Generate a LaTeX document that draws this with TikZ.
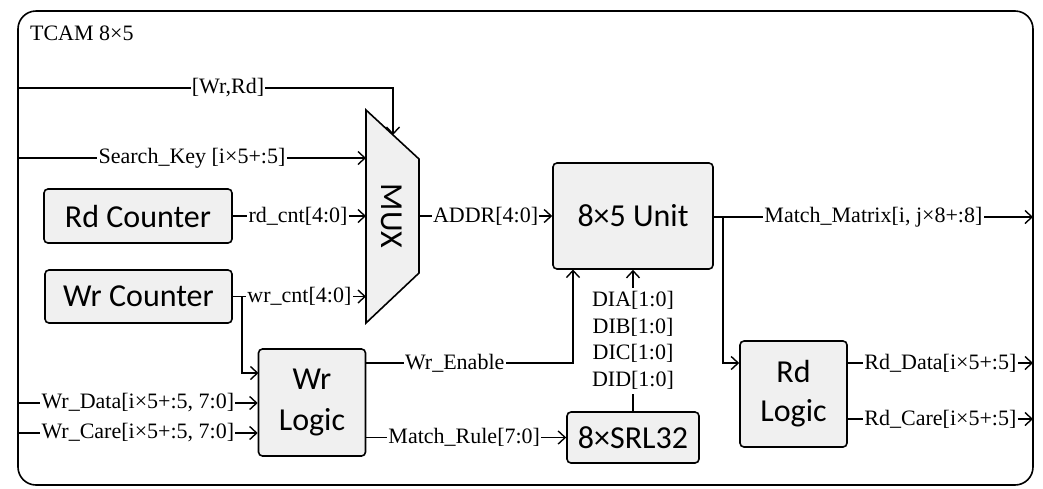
\documentclass[tikz,border=0pt]{standalone}
\usepackage{fontspec}
\setmainfont{Liberation Serif}
\newfontfamily\blkfont{Carlito}
\usetikzlibrary{arrows.meta}
\definecolor{blkgray}{HTML}{F0F0F0}
\tikzset{
	blk/.style={draw, fill=blkgray, rounded corners=2pt, line width=0.8pt, align=center, inner sep=0pt, font=\blkfont\fontsize{16}{20.5}\selectfont},
	lbl/.style={fill=white, inner sep=0.6pt, font=\fontsize{11}{13.3}\selectfont},
	sig/.style={line width=0.7pt, -{Straight Barb[length=3.5pt,width=6.5pt]}},
	wire/.style={line width=0.7pt},
}

\begin{document}
\begin{tikzpicture}[x=0.5pt,y=-0.5pt]
	\useasboundingbox (0,0) rectangle (1043,488);
	\draw [line width=0.8pt, rounded corners=9pt] (18,11) rectangle (1033,485);
	\node [anchor=west, font=\fontsize{11}{13.3}\selectfont] (title) at (23,33) {TCAM 8×5};

	\coordinate (inrw) at (18,88);
	\coordinate (insk) at (18,158);
	\coordinate (inwd) at (18,403);
	\coordinate (inwc) at (18,433);
	\coordinate (outmm) at (1033,217);
	\coordinate (outrd) at (1033,363);
	\coordinate (outrc) at (1033,419);

	\coordinate (muxtl) at (366,110);
	\coordinate (muxtr) at (419,159);
	\coordinate (muxbr) at (419,273);
	\coordinate (muxbl) at (366,323);
	\coordinate (muxsel) at (393,135);
	\coordinate (muxout) at (419,216);
	\draw [line width=0.8pt, fill=blkgray] (muxtl) -- (muxtr) -- (muxbr) -- (muxbl) -- cycle;
	\node [font=\blkfont\fontsize{16}{19}\selectfont, rotate=-90] (mux) at (392,216) {MUX};

	\node [blk, minimum width=94pt, minimum height=27pt] (rdcnt) at (138,216) {Rd Counter};
	\node [blk, minimum width=93.5pt, minimum height=26.5pt] (wrcnt) at (138.5,296.5) {Wr Counter};
	\node [blk, minimum width=53.5pt, minimum height=53.5pt] (wrlogic) at (312,402.5) {Wr\\Logic};
	\node [blk, minimum width=80pt, minimum height=53pt] (unit) at (633,216) {8×5 Unit};
	\node [blk, minimum width=66pt, minimum height=25.5pt] (srl) at (633,437.5) {8×SRL32};
	\node [blk, minimum width=53.5pt, minimum height=53pt, font=\blkfont\fontsize{16}{19.5}\selectfont] (rdlogic) at (793.5,394) {Rd\\Logic};

	\coordinate (wrtap) at (242,297);
	\coordinate (wrcin) at (258.5,373);
	\coordinate (weout) at (365.5,363);
	\coordinate (wein) at (573,269.5);
	\coordinate (mmtap) at (723,217);

	\draw [sig] (inrw) -| (muxsel) node [lbl, pos=0.28] {[Wr,Rd]};
	\draw [sig] (insk) -- (insk -| muxtl) node [lbl, pos=0.5] {Search\_Key [i×5+:5]};
	\draw [sig] (rdcnt.east) -- (rdcnt.east -| muxtl) node [lbl, pos=0.49] {rd\_cnt[4:0]};
	\draw [sig] (wrcnt.east) -- (wrcnt.east -| muxtl) node [lbl, pos=0.5] {wr\_cnt[4:0]};
	\draw [sig] (wrtap) |- (wrcin);
	\draw [sig] (muxout) -- (unit.west) node [lbl, pos=0.5] {ADDR[4:0]};

	\draw [sig] (inwd) -- (inwd -| wrlogic.west) node [lbl, pos=0.5] {Wr\_Data[i×5+:5, 7:0]};
	\draw [sig] (inwc) -- (inwc -| wrlogic.west) node [lbl, pos=0.5] {Wr\_Care[i×5+:5, 7:0]};
	\draw [sig] (weout) -| (wein) node [lbl, pos=0.215] {Wr\_Enable};
	\draw [sig] (wrlogic.east |- srl) -- (srl.west) node [lbl, pos=0.49] {Match\_Rule[7:0]};
	\draw [sig] (srl.north) -- (unit.south) node [lbl, pos=0.5, align=center, inner sep=2pt] {DIA[1:0]\\DIB[1:0]\\DIC[1:0]\\DID[1:0]};

	\draw [sig] (unit.east |- outmm) -- (outmm) node [lbl, pos=0.5] {Match\_Matrix[i, j×8+:8]};
	\draw [sig] (mmtap) |- (rdlogic.west |- outrd);
	\draw [sig] (rdlogic.east |- outrd) -- (outrd) node [lbl, pos=0.5] {Rd\_Data[i×5+:5]};
	\draw [sig] (rdlogic.east |- outrc) -- (outrc) node [lbl, pos=0.5] {Rd\_Care[i×5+:5]};
\end{tikzpicture}
\end{document}
